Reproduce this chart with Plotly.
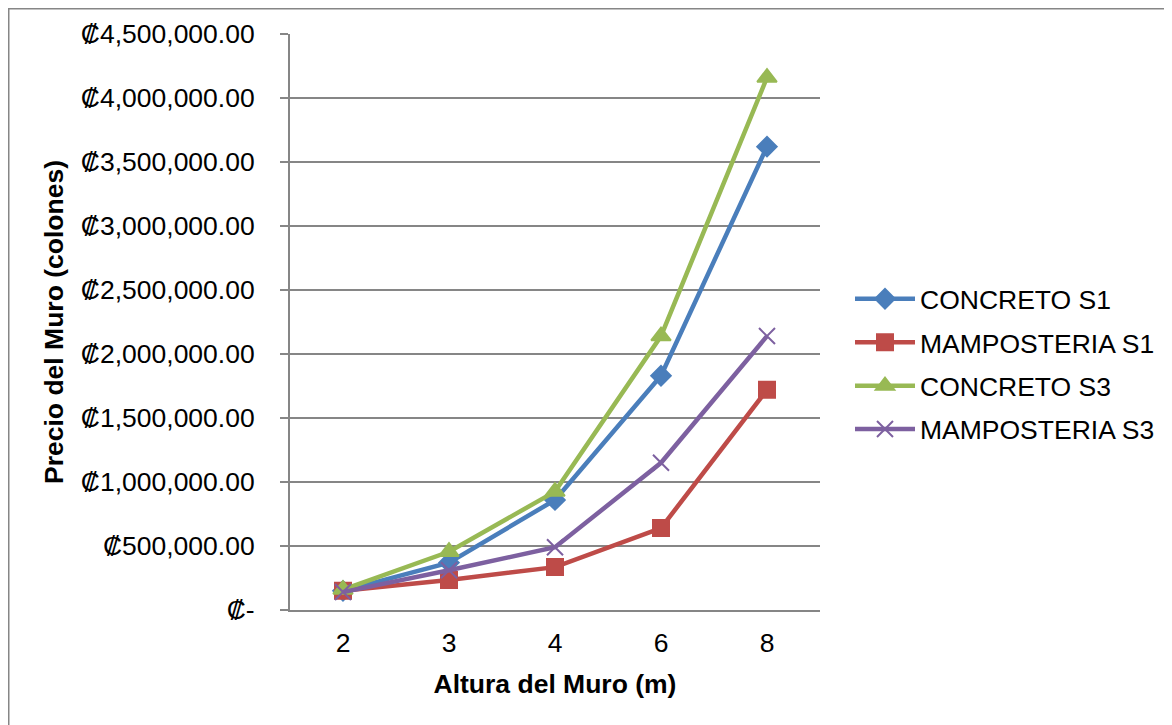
import plotly.graph_objects as go

categories = ["2", "3", "4", "6", "8"]
concreto_s1 = [150000, 370000, 860000, 1830000, 3620000]
mamposteria_s1 = [150000, 235000, 335000, 640000, 1720000]
concreto_s3 = [160000, 455000, 925000, 2140000, 4160000]
mamposteria_s3 = [140000, 310000, 490000, 1150000, 2140000]

y_tickvals = [0, 500000, 1000000, 1500000, 2000000, 2500000, 3000000, 3500000, 4000000, 4500000]
y_ticktext = ["₡-"] + ["₡{:,.2f}".format(v) for v in y_tickvals[1:]]

series = [
    ("CONCRETO S1", concreto_s1, "#4A7EBB", "diamond", 15),
    ("MAMPOSTERIA S1", mamposteria_s1, "#BE4B48", "square", 16),
    ("CONCRETO S3", concreto_s3, "#98B954", "triangle-up", 17),
    ("MAMPOSTERIA S3", mamposteria_s3, "#7D60A0", "x-thin", 16),
]

fig = go.Figure()
for name, vals, color, sym, size in series:
    fig.add_trace(go.Scatter(
        x=categories, y=vals, name=name, mode="lines+markers",
        legendgroup=name,
        line=dict(color=color, width=4.5),
        marker=dict(symbol=sym, size=size, color=color,
                    line=dict(color=color, width=2)),
    ))

W, H = 1164, 717
L, T = 282, 26
PW, PH = 530, 576
FS = 26.5

font = "Arial, Liberation Sans, sans-serif"
fig.update_layout(
    width=W, height=H,
    margin=dict(l=L, r=W - L - PW, t=T, b=H - T - PH, autoexpand=False),
    paper_bgcolor="white", plot_bgcolor="white",
    font=dict(family=font, size=FS, color="black"),
    showlegend=True,
    legend=dict(x=(842 - L) / PW, y=(602 - 356) / PH, xanchor="left", yanchor="middle",
                font=dict(size=FS), tracegroupgap=6, itemwidth=60,
                bgcolor="rgba(0,0,0,0)"),
    xaxis=dict(
        type="category", range=[-0.5, 4.5], showgrid=False, showline=True,
        linecolor="#868686", linewidth=2, ticks="",
        ticklabelstandoff=8,
        tickfont=dict(size=FS),
        title=dict(text="<b>Altura del Muro (m)</b>", font=dict(size=FS), standoff=18),
    ),
    yaxis=dict(
        range=[0, 4500000], tickvals=y_tickvals, ticktext=y_ticktext,
        showgrid=True, gridcolor="#868686", gridwidth=1.5,
        showline=True, linecolor="#868686", linewidth=2,
        ticks="outside", ticklen=8, tickcolor="#868686", tickwidth=1.5,
        ticklabelstandoff=20,
        tickfont=dict(size=FS),
        zeroline=False,
        title=dict(text="<b>Precio del Muro (colones)</b>", font=dict(size=FS), standoff=10),
    ),
    shapes=[dict(type="rect", xref="paper", yref="paper",
                 x0=(0.5 - L) / PW, x1=(W + 30 - L) / PW,
                 y0=-(H + 30 - T - PH) / PH, y1=(T + PH - 0.5) / PH,
                 line=dict(color="#868686", width=2), layer="below")],
)

fig.write_html("out.html")
